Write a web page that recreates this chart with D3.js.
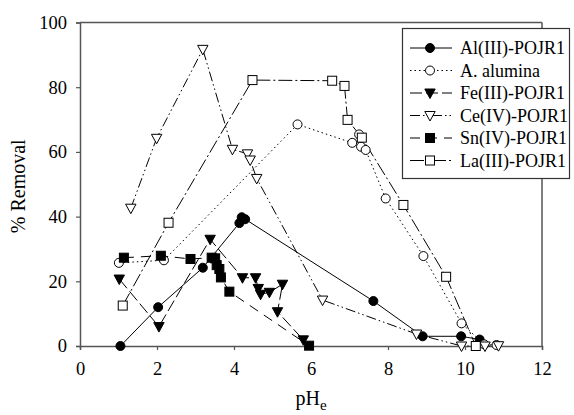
<!DOCTYPE html>
<html>
<head>
<meta charset="utf-8">
<script src="https://cdn.jsdelivr.net/npm/d3@7"></script>
<style>
  body { margin: 0; background: #fff; }
  svg text { font-family: "Liberation Serif", "DejaVu Serif", serif !important; }
</style>
</head>
<body>
<script>
// data
const xTicks = [0, 2, 4, 6, 8, 10, 12];
const yTicks = [0, 20, 40, 60, 80, 100];

const alIII = [[1.05,0],[2.03,12],[3.19,24.2],[4.14,38],[4.2,39.8],[4.29,39.2],[7.62,13.9],[8.9,3],[9.9,3],[10.38,2]];
const aAlumina = [[1.01,25.7],[2.18,26.5],[5.65,68.5],[7.07,62.8],[7.25,65.4],[7.3,61.6],[7.42,60.6],[7.94,45.6],[8.92,27.8],[9.91,7],[10.5,0.5],[10.82,0.3]];
const feIII = [[1.02,20.7],[2.05,6],[3.38,33],[4.22,21.1],[4.56,21.1],[4.63,17.8],[4.69,16],[4.92,16.6],[5.26,19.1],[5.13,10.6],[5.8,1.9]];
const ceIV = [[1.32,42.6],[1.99,64.2],[3.19,91.7],[3.96,60.8],[4.35,59.4],[4.42,57.5],[4.59,51.8],[6.3,14.2],[8.74,3.7],[9.91,0],[10.52,0],[10.87,0.1]];
const snIV = [[1.14,27.3],[2.1,27.9],[2.87,26.9],[3.42,27.3],[3.51,27.1],[3.55,25],[3.62,23.8],[3.66,21.2],[3.88,16.8],[5.95,0.1]];
const laIII = [[1.11,12.5],[2.3,38.1],[4.48,82.2],[6.55,82],[6.87,80.4],[6.95,69.9],[7.32,64.4],[8.4,43.6],[9.51,21.4],[10.28,0]];

const seriesNames = ["Al(III)-POJR1", "A. alumina", "Fe(III)-POJR1", "Ce(IV)-POJR1", "Sn(IV)-POJR1", "La(III)-POJR1"];
const seriesData = [alIII, aAlumina, feIII, ceIV, snIV, laIII];

const w = 574, h = 415;
const padL = 80, padR = 542, padT = 22.5, padB = 346;
const serif = "'Liberation Serif', 'DejaVu Serif', serif";

const svg = d3.select("body").append("svg")
  .attr("width", w).attr("height", h)
  .attr("font-family", serif);

const xScale = d3.scaleLinear().domain([0, 12]).range([padL, padR]);
const yScale = d3.scaleLinear().domain([0, 100]).range([padB, padT]);

// styles per series
const dashes = [null, "1.5,3", "12,4", "10,3,1.5,3,1.5,3", "10,7", "14,3,2,3"];
const shapes = ["circle", "circle", "tri", "tri", "square", "square"];
const filled = [true, false, true, false, true, false];

function marker(g, kind, fill, x, y) {
  const f = fill ? "#000" : "#fff";
  if (kind === "circle") {
    g.append("circle").attr("cx", x).attr("cy", y).attr("r", 4.5)
      .attr("fill", f).attr("stroke", "#000").attr("stroke-width", 1);
  } else if (kind === "square") {
    g.append("rect").attr("x", x - 4.5).attr("y", y - 4.5)
      .attr("width", 9).attr("height", 9)
      .attr("fill", f).attr("stroke", "#000").attr("stroke-width", 1);
  } else {
    g.append("path")
      .attr("d", `M${x - 5.2},${y - 4} L${x + 5.2},${y - 4} L${x},${y + 5.5} Z`)
      .attr("fill", f).attr("stroke", "#000").attr("stroke-width", 1);
  }
}

// frame
svg.append("line").attr("x1", padL).attr("x2", padR).attr("y1", padT).attr("y2", padT)
  .attr("stroke", "#555").attr("stroke-width", 1.5);
svg.append("line").attr("x1", padR).attr("x2", padR).attr("y1", padT).attr("y2", padB)
  .attr("stroke", "#555").attr("stroke-width", 1.5);

// axes
const xAxis = d3.axisBottom(xScale).tickValues(xTicks).tickSize(4).tickPadding(12);
const gx = svg.append("g")
  .attr("transform", "translate(0," + padB + ")")
  .call(xAxis);
const yAxis = d3.axisLeft(yScale).tickValues(yTicks).tickSize(4).tickPadding(9);
const gy = svg.append("g")
  .attr("transform", "translate(" + padL + ",0)")
  .call(yAxis);
[gx, gy].forEach(g => {
  g.attr("font-family", serif).attr("font-size", 18.5);
  g.select(".domain").attr("stroke", "#555").attr("stroke-width", 1.5);
  g.selectAll(".tick line").attr("stroke", "#555").attr("stroke-width", 1.2);
  g.selectAll(".tick text").attr("fill", "#000");
});

// lines and markers
const line = d3.line().x(d => xScale(d[0])).y(d => yScale(d[1]));
seriesData.forEach((data, i) => {
  svg.append("path").datum(data)
    .attr("d", line)
    .attr("fill", "none").attr("stroke", "#000").attr("stroke-width", 1)
    .attr("stroke-dasharray", dashes[i]);
});
seriesData.forEach((data, i) => {
  const g = svg.append("g");
  data.forEach(d => marker(g, shapes[i], filled[i], xScale(d[0]), yScale(d[1])));
});

// legend
const lg = svg.append("g");
lg.append("rect").attr("x", 402.5).attr("y", 28.5).attr("width", 167).attr("height", 150)
  .attr("fill", "#fff").attr("stroke", "#333").attr("stroke-width", 1.2);
seriesNames.forEach((name, i) => {
  const y = 48 + i * 22.5;
  lg.append("line").attr("x1", 410).attr("x2", 452).attr("y1", y).attr("y2", y)
    .attr("stroke", "#000").attr("stroke-width", 1)
    .attr("stroke-dasharray", dashes[i]);
  marker(lg, shapes[i], filled[i], 430, y);
  lg.append("text").attr("x", 460).attr("y", y + 6)
    .attr("font-size", 18).text(name);
});

// axis labels
svg.append("text")
  .attr("transform", "translate(25," + ((padT + padB) / 2 + 2) + ") rotate(-90)")
  .attr("text-anchor", "middle")
  .attr("font-size", 20)
  .text("% Removal");

const xl = svg.append("text")
  .attr("x", 311).attr("y", 405)
  .attr("text-anchor", "middle")
  .attr("font-size", 20);
xl.append("tspan").text("pH");
xl.append("tspan").attr("dy", 5).attr("font-size", 15).text("e");
</script>
</body>
</html>
